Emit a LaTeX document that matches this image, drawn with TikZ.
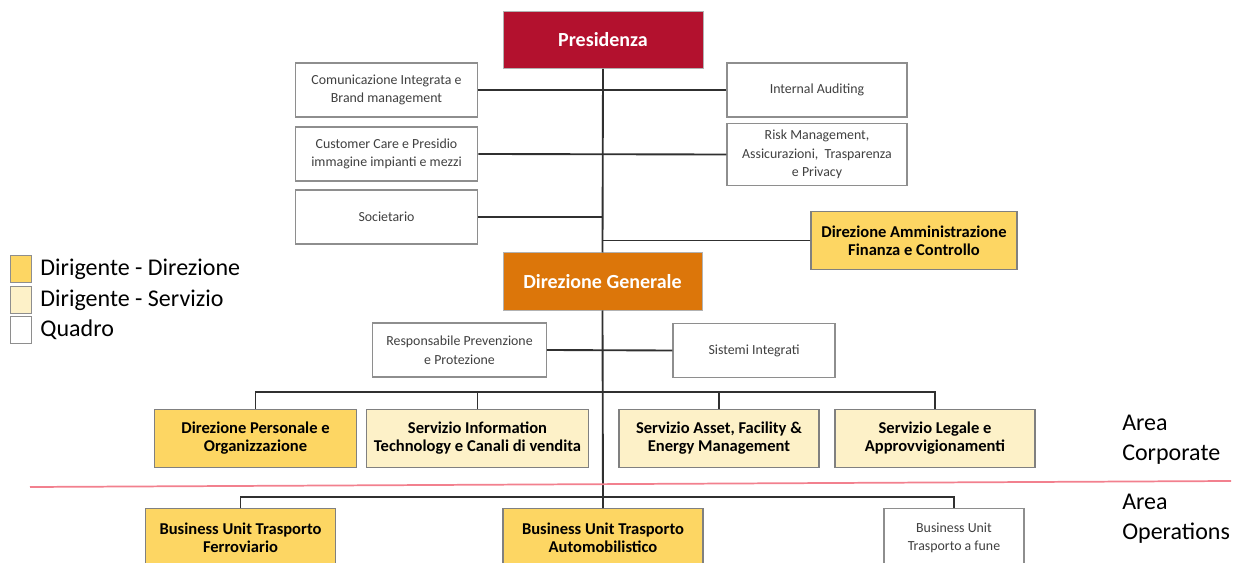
\documentclass[tikz,border=0pt]{standalone}
\usepackage{fontspec}
\setmainfont{Carlito}
\usetikzlibrary{positioning}
\definecolor{presred}{HTML}{B3112E}
\definecolor{dgorange}{HTML}{DC760A}
\definecolor{dirgiallo}{HTML}{FDD663}
\definecolor{servgiallo}{HTML}{FDF1C8}
\definecolor{bordo}{HTML}{8E8E8E}
\definecolor{linea}{HTML}{303030}
\definecolor{sepline}{HTML}{F2808E}

\begin{document}
\begin{tikzpicture}[x=0.75pt,y=-0.75pt,
	box/.style={draw=bordo,line width=0.9pt,align=center,inner sep=2pt,fill=white,
		font=\fontsize{10.4}{14}\selectfont,text=black!75},
	dirbox/.style={box,fill=dirgiallo,draw=black!50,text=black,font=\bfseries\fontsize{12.4}{13.5}\selectfont},
	servbox/.style={dirbox,fill=servgiallo},
	vertice/.style={align=center,text=white,font=\bfseries\fontsize{15}{17}\selectfont,
		minimum width=150pt,minimum height=43pt,draw=black!30,line width=0.5pt},
	conn/.style={draw=linea,line width=1.4pt},
	legsq/.style={draw=bordo,line width=0.8pt,minimum width=16pt,minimum height=20pt,inner sep=0pt},
	legenda/.style={anchor=west,font=\fontsize{18}{20}\selectfont,inner sep=0pt},
	area/.style={anchor=west,align=left,font=\fontsize{18}{22.5}\selectfont,inner sep=0pt}]
	\useasboundingbox (0,0) rectangle (1233,563);
	\clip (0,0) rectangle (1233,563);

	% vertici
	\node[vertice,fill=presred] (pres) at (603,40) {Presidenza};
	\node[vertice,fill=dgorange,minimum width=149pt] (dg) at (602.5,281.5) {Direzione Generale};

	% staff presidenza
	\node[box,minimum width=137pt,minimum height=40.5pt] (com) at (386.5,90) {Comunicazione Integrata e\\Brand management};
	\node[box,minimum width=137pt,minimum height=40.5pt] (cc) at (386.5,154) {Customer Care e Presidio\\immagine impianti e mezzi};
	\node[box,minimum width=137pt,minimum height=40.5pt] (soc) at (386.5,217) {Societario};
	\node[box,minimum width=135pt,minimum height=40.5pt] (ia) at (817,90) {Internal Auditing};
	\node[box,minimum width=135pt,minimum height=47pt] (risk) at (817,154.5) {Risk Management,\\Assicurazioni,\ \ Trasparenza\\e Privacy};
	\node[dirbox,minimum width=154.5pt,minimum height=44pt] (dafc) at (914,240.5) {Direzione Amministrazione\\Finanza e Controllo};

	% staff direzione generale
	\node[box,minimum width=130pt,minimum height=40.5pt] (rpp) at (459.5,350) {Responsabile Prevenzione\\e Protezione};
	\node[box,minimum width=121.5pt,minimum height=41pt] (si) at (754,350.5) {Sistemi Integrati};

	% area corporate
	\node[dirbox,minimum width=151pt,minimum height=44pt] (dpo) at (255.5,438.5) {Direzione Personale e\\Organizzazione};
	\node[servbox,minimum width=166pt,minimum height=44pt] (sit) at (477.5,438.5) {Servizio Information\\Technology e Canali di vendita};
	\node[servbox,minimum width=150pt,minimum height=44pt] (asset) at (719,438.5) {Servizio Asset, Facility \&\\Energy Management};
	\node[servbox,minimum width=150pt,minimum height=44pt] (leg) at (935,438.5) {Servizio Legale e\\Approvvigionamenti};

	% area operations
	\node[dirbox,minimum width=143pt,minimum height=44pt] (ferr) at (240.5,538) {Business Unit Trasporto\\Ferroviario};
	\node[dirbox,minimum width=150pt,minimum height=44pt] (auto) at (603,538) {Business Unit Trasporto\\Automobilistico};
	\node[box,minimum width=105pt,minimum height=44pt] (fune) at (954,538) {Business Unit\\Trasporto a fune};

	\coordinate (busc) at (602,392);
	\coordinate (buso) at (602,497);

	\draw[conn] (pres.south) -- (dg.north);
	\draw[conn] (dg.south) -- (auto.north);
	\draw[conn] (com.east) -- (ia.west);
	\draw[conn] (cc.east) -- (risk.west);
	\draw[conn] (soc.east) -- (soc.east -| pres.south);
	\draw[conn] (dafc.west) -- (dafc.west -| pres.south);
	\draw[conn] (rpp.east) -- (si.west);
	\draw[conn] (dpo.north) |- (busc) -| (leg.north);
	\draw[conn] (sit.north) -- (sit.north |- busc);
	\draw[conn] (asset.north) -- (asset.north |- busc);
	\draw[conn] (ferr.north) |- (buso) -| (fune.north);

	% separatore
	\draw[sepline,line width=1.3pt] (30,487) -- (1231,481);
	\node[area] (acorp) at (1122,440) {Area\\Corporate};
	\node[area] (aoper) at (1122,519) {Area\\Operations};

	% legenda
	\foreach \col/\txt/\y [count=\i] in {dirgiallo/Dirigente - Direzione/269, servgiallo/Dirigente - Servizio/300, white/Quadro/330} {
		\node[legsq,fill=\col] (sq\i) at (21,\y) {};
		\node[legenda,right=6pt of sq\i] (leg\i) {\txt};
	}
\end{tikzpicture}
\end{document}
